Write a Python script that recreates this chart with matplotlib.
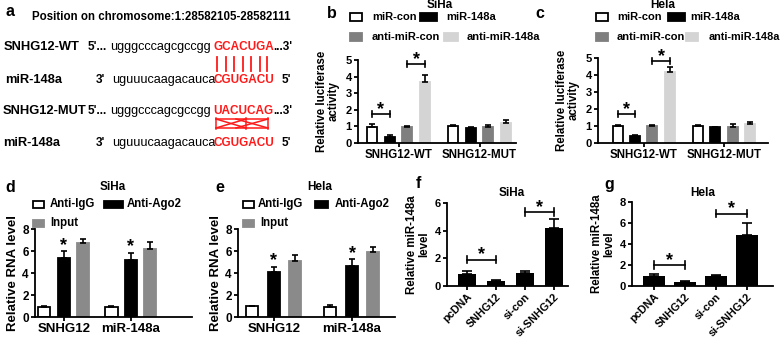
import numpy as np
import matplotlib
matplotlib.use("Agg")
import matplotlib.pyplot as plt
from matplotlib.patches import Rectangle

plt.rcParams["font.family"] = ["Liberation Sans", "DejaVu Sans"]
plt.rcParams["font.weight"] = "bold"

W, H = 783, 340

# panel a: sequences
seq_rows = ["SNHG12-WT", "miR-148a", "SNHG12-MUT", "miR-148a"]
seq_prefix = ["5'...", "3'", "5'...", "3'"]
seq_body = ["ugggcccagcgccgg", "uguuucaagacauca", "ugggcccagcgccgg", "uguuucaagacauca"]
seq_site = ["GCACUGA", "CGUGACU", "UACUCAG", "CGUGACU"]
seq_suffix = ["...3'", "5'", "...3'", "5'"]

# panels b, c: luciferase
luc_groups = ["SNHG12-WT", "SNHG12-MUT"]
luc_series = ["miR-con", "miR-148a", "anti-miR-con", "anti-miR-148a"]
luc_colors = ["white", "black", "#7f7f7f", "#d4d4d4"]
siha_luc_mean = [[0.98, 1.0], [0.35, 0.9], [0.95, 0.95], [3.65, 1.2]]
siha_luc_err = [[0.15, 0.1], [0.12, 0.05], [0.1, 0.15], [0.45, 0.18]]
hela_luc_mean = [[1.0, 0.98], [0.4, 0.92], [1.0, 0.93], [4.2, 1.12]]
hela_luc_err = [[0.08, 0.1], [0.1, 0.05], [0.06, 0.2], [0.25, 0.12]]

# panels d, e: RIP
rip_groups = ["SNHG12", "miR-148a"]
rip_series = ["Anti-IgG", "Anti-Ago2", "Input"]
rip_colors = ["white", "black", "#8a8a8a"]
siha_rip_mean = [[0.92, 0.92], [5.4, 5.2], [6.7, 6.2]]
siha_rip_err = [[0.12, 0.12], [0.6, 0.65], [0.42, 0.6]]
hela_rip_mean = [[0.98, 0.88], [4.12, 4.68], [5.12, 5.95]]
hela_rip_err = [[0.06, 0.18], [0.46, 0.6], [0.5, 0.4]]

# panels f, g: miR-148a level
qpcr_labels = ["pcDNA", "SNHG12", "si-con", "si-SNHG12"]
siha_mir_mean = [0.9, 0.37, 0.93, 4.2]
siha_mir_err = [0.15, 0.06, 0.18, 0.62]
hela_mir_mean = [0.95, 0.38, 0.92, 4.85]
hela_mir_err = [0.18, 0.13, 0.15, 1.15]


def fx(x):
    return x / W


def fy(y):
    return 1 - y / H


def box(l, t, r, b):
    return [l / W, 1 - b / H, (r - l) / W, (b - t) / H]


def ftext(x, y, s, size=8.3, ha="left", color="black", weight="bold", **kw):
    fig.text(fx(x), fy(y), s, ha=ha, va="center", fontsize=size,
             color=color, fontweight=weight, **kw)


def legend_box(x, y, color, w=11, h=7):
    fig.patches.append(Rectangle((fx(x), fy(y + h / 2)), w / W, h / H,
                                 transform=fig.transFigure, facecolor=color,
                                 edgecolor="black" if color == "white" else color,
                                 linewidth=1.3))


def style_ax(ax, ymax, step, tsize):
    for s in ["top", "right"]:
        ax.spines[s].set_visible(False)
    for s in ["left", "bottom"]:
        ax.spines[s].set_linewidth(1.3)
    ax.set_ylim(0, ymax)
    ax.set_yticks(np.arange(0, ymax + 0.01, step))
    ax.tick_params(width=1.3, length=3, labelsize=tsize, pad=1.5)
    for t in ax.get_yticklabels() + ax.get_xticklabels():
        t.set_fontweight("bold")


def bracket(ax, x1, x2, y, h, ymax):
    kw = dict(color="black", lw=1.2, clip_on=False)
    ax.plot([x1, x2], [y, y], **kw)
    ax.plot([x1, x1], [y - h, y + h], **kw)
    ax.plot([x2, x2], [y - h, y + h], **kw)
    ax.text((x1 + x2) / 2, y - 0.045 * ymax, "*", ha="center", va="bottom",
            fontsize=13, fontweight="bold")


def grouped(ax, means, errs, colors, offsets, width):
    xs = []
    for i, (m, e, c) in enumerate(zip(means, errs, colors)):
        x = np.arange(len(m)) + offsets[i]
        ax.bar(x, m, width, color=c, edgecolor="black" if c == "white" else c,
               linewidth=1.3, zorder=2)
        ax.errorbar(x, m, yerr=[np.zeros(len(e)), e], fmt="none", ecolor="black",
                    elinewidth=1.2, capsize=2.5, capthick=1.2, zorder=3)
        xs.append(x)
    return xs


fig = plt.figure(figsize=(W / 100, H / 100), dpi=100)

# ---------------- panel a
ftext(5, 12, "a", size=11.5)
ftext(32, 17, "Position on chromosome:1:28582105-28582111", size=8.3)
row_y = [47, 80, 111, 143]
label_x = [4, 5, 3, 3]
prefix_x = [88, 96, 88, 96]
body_x = [110, 112, 110, 112]
for i in range(4):
    ftext(label_x[i], row_y[i], seq_rows[i], size=9.3)
    ftext(prefix_x[i], row_y[i], seq_prefix[i], size=8.5)
    ftext(body_x[i], row_y[i], seq_body[i], size=9.1, weight="normal")
    ftext(213, row_y[i], seq_site[i], size=8.5, color="#ff1a1a")
    ftext(273 if i % 2 == 0 else 282, row_y[i], seq_suffix[i], size=8.5)
for x in [217, 226, 234, 243, 251, 260, 267]:
    fig.add_artist(plt.Line2D([fx(x), fx(x)], [fy(57), fy(71)], color="#ff1a1a", lw=1.3))
cross = [((216, 118), (216, 129)), ((216, 119), (246, 128)), ((216, 128), (246, 119)),
         ((246, 118), (246, 129)), ((236, 119), (268, 128)), ((236, 128), (268, 119)),
         ((268, 118), (268, 129)), ((216, 119), (268, 119)), ((216, 128), (268, 128))]
for (x1, y1), (x2, y2) in cross:
    fig.add_artist(plt.Line2D([fx(x1), fx(x2)], [fy(y1), fy(y2)], color="#ff1a1a", lw=1.1))

# ---------------- panels b, c
luc_offsets = [-0.325, -0.108, 0.108, 0.325]
for key, ax_box, mean, err, xl, title, tx, lx, leg in [
        ("b", box(358, 60, 516, 143), siha_luc_mean, siha_luc_err, (-0.5, 1.45), "SiHa", 440, 327,
         [(350, 17, 372, 12), (420, 17, 446, 17), (350, 37, 372, 12), (444, 37, 467, 14)]),
        ("c", box(598, 58, 768, 143), hela_luc_mean, hela_luc_err, (-0.57, 1.55), "Hela", 663, 535,
         [(596, 17, 617, 12), (668, 17, 690, 17), (596, 37, 617, 12), (686, 37, 709, 12)])]:
    ax = fig.add_axes(ax_box)
    xs = grouped(ax, mean, err, luc_colors, luc_offsets, 0.125)
    style_ax(ax, 5, 1, 8)
    ax.set_xlim(*xl)
    ax.set_xticks(range(len(luc_groups)))
    ax.set_xticklabels(luc_groups, fontsize=8.3, fontweight="bold")
    ax.set_ylabel("Relative luciferase\nactivity", fontsize=8.3, fontweight="bold",
                  linespacing=1.0, labelpad=4)
    bracket(ax, xs[0][0], xs[1][0], 1.75 if key == "b" else 1.7, 0.18, 5)
    bracket(ax, xs[2][0], xs[3][0], 4.75 if key == "b" else 4.8, 0.18, 5)
    ftext(tx, 5, title, size=8.5, ha="center")
    ftext(lx, 13, key, size=11.5)
    for (bx, by, tx2, bw), name, c in zip(leg, luc_series, luc_colors):
        legend_box(bx, by, c, w=bw)
        ftext(tx2, by, name, size=8 if tx2 != 709 else 7.8)

# ---------------- panels d, e
for key, ax_box, mean, err, xl, off, bw, title, tx, leg, lx in [
        ("d", box(35, 229, 192, 317), siha_rip_mean, siha_rip_err, (-0.43, 1.91),
         [-0.29, 0, 0.28], 0.18, "SiHa", 113,
         [(33, 204, 50, 11), (104, 204, 127, 19), (33, 223, 50, 11)], 5),
        ("e", box(238, 229, 395, 317), hela_rip_mean, hela_rip_err, (-0.46, 1.55),
         [-0.28, 0, 0.27], 0.16, "Hela", 320,
         [(243, 204, 258, 11), (315, 204, 335, 13), (243, 223, 260, 11)], 215)]:
    ax = fig.add_axes(ax_box)
    xs = grouped(ax, mean, err, rip_colors, off, bw)
    style_ax(ax, 8, 2, 8.5)
    ax.set_xlim(*xl)
    ax.set_xticks(range(len(rip_groups)))
    ax.set_xticklabels(rip_groups, fontsize=9.5, fontweight="bold")
    ax.set_ylabel("Relative RNA level", fontsize=9.5, fontweight="bold", labelpad=2)
    for j in range(len(rip_groups)):
        ax.text(xs[1][j], mean[1][j] + err[1][j] - 0.25, "*", ha="center", va="bottom",
                fontsize=13, fontweight="bold")
    ftext(tx, 187, title, size=8.5, ha="center")
    ftext(lx, 187, key, size=11.5)
    for (bx, by, tx2, w), name, c in zip(leg, rip_series, rip_colors):
        legend_box(bx, by, c, w=w)
        ftext(tx2, by, name, size=8.3)

# ---------------- panels f, g
for key, ax_box, mean, err, xl, bw, title, tx, lx, b2 in [
        ("f", box(447, 203, 568, 286), siha_mir_mean, siha_mir_err, (-0.7, 3.5), 0.63,
         "SiHa", 512, 416, (6, 2, 1.9, 5.35)),
        ("g", box(632, 202, 773, 286), hela_mir_mean, hela_mir_err, (-0.71, 3.84), 0.68,
         "Hela", 703, 604, (8, 2, 2.0, 6.9))]:
    ymax, step, y1, y2 = b2
    ax = fig.add_axes(ax_box)
    x = np.arange(len(qpcr_labels))
    ax.bar(x, mean, bw, color="black", zorder=2)
    ax.errorbar(x, mean, yerr=[np.zeros(len(err)), err], fmt="none", ecolor="black",
                elinewidth=1.2, capsize=3.5, capthick=1.2, zorder=3)
    style_ax(ax, ymax, step, 8)
    ax.set_xlim(*xl)
    ax.set_xticks(x)
    ax.set_xticklabels(qpcr_labels, rotation=45, ha="right", rotation_mode="anchor",
                       fontsize=7.8, fontweight="bold")
    ax.tick_params(axis="x", pad=1)
    ax.set_ylabel("Relative miR-148a\nlevel", fontsize=8.3, fontweight="bold",
                  linespacing=1.0, labelpad=3)
    bracket(ax, 0, 1, y1, 0.045 * ymax, ymax)
    bracket(ax, 2, 3, y2, 0.045 * ymax, ymax)
    ftext(tx, 193, title, size=8.5, ha="center")
    ftext(lx, 184, key, size=11.5)

fig.savefig("out.png", dpi=100)
